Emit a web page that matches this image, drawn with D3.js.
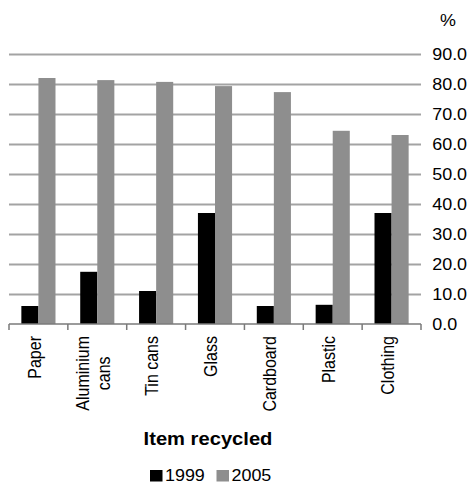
<!DOCTYPE html>
<html>
<head>
<meta charset="utf-8">
<script src="https://cdn.jsdelivr.net/npm/d3@7"></script>
<style>
  body { margin: 0; background: #fff; }
  text { font-family: "Liberation Sans", Arial, sans-serif; fill: #000; }
</style>
</head>
<body>
<div class="main-container"></div>
<script>
var categories = ["Paper", "Aluminium cans", "Tin cans", "Glass", "Cardboard", "Plastic", "Clothing"];
var seriesNames = ["1999", "2005"];
var values1999 = [6.0, 17.4, 11.0, 37.0, 6.0, 6.4, 37.0];
var values2005 = [82.0, 81.3, 80.7, 79.3, 77.3, 64.4, 63.0];
var yTicks = [0, 10, 20, 30, 40, 50, 60, 70, 80, 90];
var colors = ["#000000", "#8e8e8e"];

var sx = 1.12; // the reference text looks a bit wide

var svg = d3.select(".main-container")
    .append("svg")
    .attr("width", 476)
    .attr("height", 486);

var y = d3.scaleLinear().domain([0, 90]).range([324, 54]);
var x = d3.scaleBand().domain(categories).range([9, 421])
    .paddingInner(0.42).paddingOuter(0.21);
var sub = d3.scaleBand().domain(seriesNames).range([0, x.bandwidth()]);

// gridlines
var grid = svg.append("g")
    .attr("transform", "translate(9,0)")
    .call(d3.axisLeft(y).tickValues(yTicks.slice(1)).tickSize(-412).tickFormat(""));
grid.select(".domain").remove();
grid.selectAll("line").attr("stroke", "#a3a3a3").attr("stroke-width", 2);

// bars
var rows = categories.map(function (c, i) {
    return { cat: c, vals: [values1999[i], values2005[i]] };
});
var groups = svg.selectAll(".grp")
    .data(rows)
    .enter()
    .append("g")
    .attr("transform", function (d) { return "translate(" + x(d.cat) + ",0)"; });
groups.selectAll("rect")
    .data(function (d) { return d.vals; })
    .enter()
    .append("rect")
    .attr("x", function (d, i) { return sub(seriesNames[i]); })
    .attr("width", sub.bandwidth())
    .attr("y", function (d) { return y(d); })
    .attr("height", function (d) { return y(0) - y(d); })
    .style("fill", function (d, i) { return colors[i]; });

// category axis with ticks on band boundaries
svg.append("line")
    .attr("x1", 9).attr("x2", 421)
    .attr("y1", y(0)).attr("y2", y(0))
    .attr("stroke", "#7a7a7a").attr("stroke-width", 1.5);
var bounds = d3.range(categories.length + 1).map(function (i) { return x.range()[0] + i * x.step(); });
svg.selectAll(".btick")
    .data(bounds)
    .enter()
    .append("line")
    .attr("x1", function (d) { return d; }).attr("x2", function (d) { return d; })
    .attr("y1", y(0)).attr("y2", y(0) + 6)
    .attr("stroke", "#7a7a7a").attr("stroke-width", 1.5);

// category labels, rotated
var labels = svg.selectAll(".clab")
    .data(categories)
    .enter()
    .append("text")
    .style("font-size", "16px")
    .attr("text-anchor", "middle");
labels.each(function (d) {
    var lines = d.length > 10 ? d.split(" ") : [d];
    var t = d3.select(this);
    lines.forEach(function (l, i) {
        t.append("tspan")
            .attr("x", 0)
            .attr("y", (i - (lines.length - 1) / 2) * 19 + 2)
            .text(l);
    });
    var maxLen = d3.max(t.selectAll("tspan").nodes(), function (n) { return n.getComputedTextLength(); });
    var cx = x(d) + x.bandwidth() / 2;
    t.attr("transform", "translate(" + cx + "," + (336 + maxLen / 2) + ") scale(" + sx + ",1) rotate(-90)");
});

// value axis labels on the right
var yAxis = svg.append("g")
    .attr("transform", "translate(430,0)")
    .call(d3.axisRight(y).tickValues(yTicks).tickFormat(d3.format(".1f")).tickSize(0).tickPadding(2));
yAxis.select(".domain").remove();
yAxis.selectAll("text")
    .style("font-size", "16px")
    .style("font-family", "Liberation Sans, Arial, sans-serif")
    .attr("fill", "#000")
    .attr("transform", "scale(" + sx + ",1)");

svg.append("text")
    .attr("transform", "translate(448,20) scale(" + sx + ",1)")
    .attr("text-anchor", "middle")
    .attr("dy", "0.35em")
    .style("font-size", "16px")
    .text("%");

// axis title
svg.append("text")
    .attr("transform", "translate(208,444.5) scale(" + sx + ",1)")
    .attr("text-anchor", "middle")
    .style("font-size", "18px")
    .style("font-weight", "bold")
    .text("Item recycled");

// legend
var legendX = [150, 216.5];
var leg = svg.selectAll(".leg")
    .data(seriesNames)
    .enter()
    .append("g")
    .attr("transform", function (d, i) { return "translate(" + legendX[i] + ",0)"; });
leg.append("rect")
    .attr("x", 0).attr("y", 470)
    .attr("width", 12.5).attr("height", 11.5)
    .style("fill", function (d, i) { return colors[i]; });
leg.append("text")
    .attr("transform", "translate(15,481) scale(" + sx + ",1)")
    .style("font-size", "16px")
    .text(function (d) { return d; });
</script>
</body>
</html>
